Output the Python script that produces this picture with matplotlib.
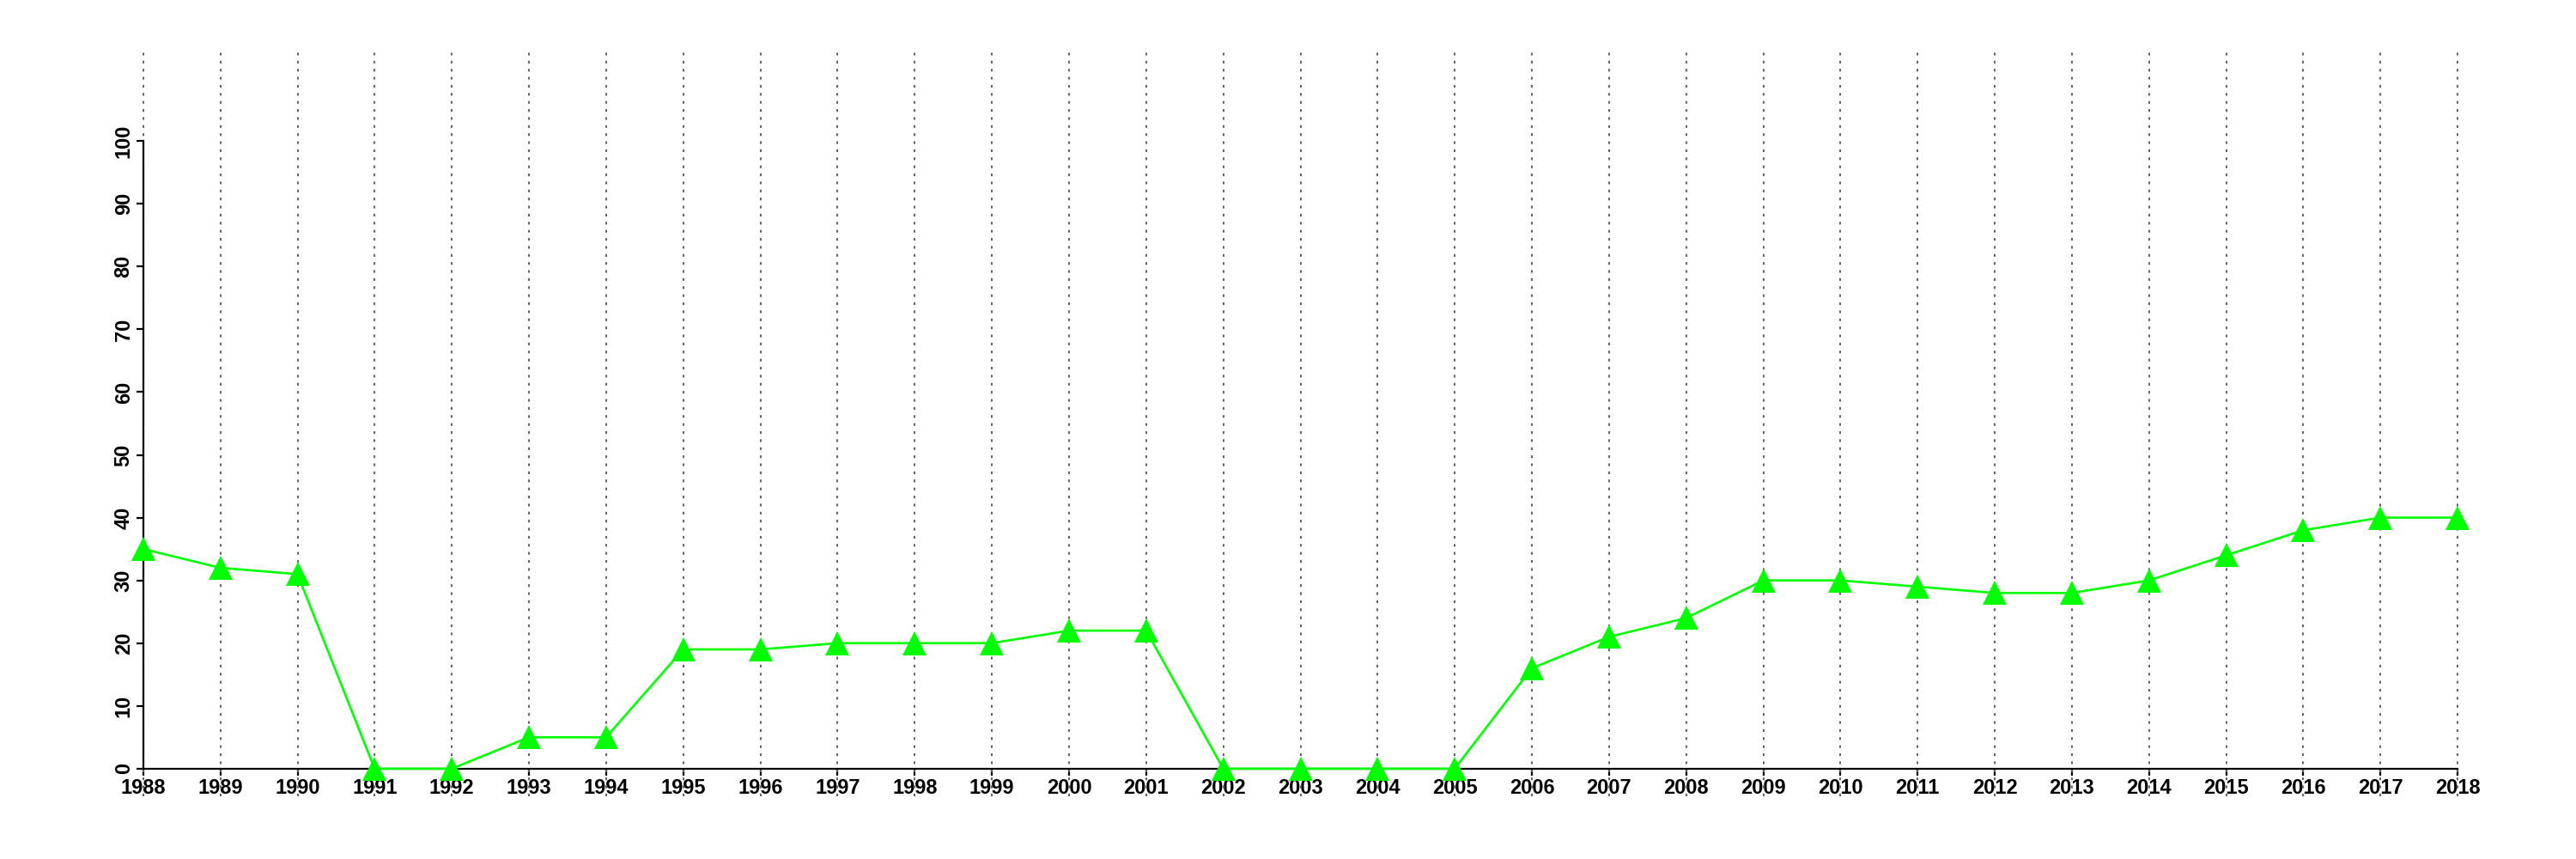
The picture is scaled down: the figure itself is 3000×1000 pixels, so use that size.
import matplotlib
matplotlib.use("Agg")
import matplotlib.pyplot as plt

years = list(range(1988, 2019))
values = [35, 32, 31, 0, 0, 5, 5, 19, 19, 20, 20, 20, 22, 22,
          0, 0, 0, 0, 16, 21, 24, 30, 30, 29, 28, 28, 30, 34, 38, 40, 40]
yticks = list(range(0, 101, 10))

plt.rcParams['font.family'] = ['Liberation Sans', 'DejaVu Sans']

fig = plt.figure(figsize=(30, 10), dpi=100)
ax = fig.add_axes([59 / 3000, 0.073, (2970 - 59) / 3000, 0.941 - 0.073])

ax.set_xlim(1986.8, 2019.2)
ax.set_ylim(-4.4, 114.4)

# dotted vertical grid at each year, over the tick labels like the original
for yr in years:
    ax.axvline(yr, color='#666666', linestyle=(0, (1.5, 3)), linewidth=1.5, zorder=3)

ax.plot(years, values, color='#00ff00', linewidth=1.9, marker='^',
        markersize=20, markeredgewidth=0, zorder=4)

for side in ['top', 'right']:
    ax.spines[side].set_visible(False)
ax.spines['bottom'].set_position(('data', 0))
ax.spines['left'].set_position(('data', 1988))
ax.spines['bottom'].set_bounds(1988, 2018)
ax.spines['left'].set_bounds(0, 100)
for side in ['bottom', 'left']:
    ax.spines[side].set_linewidth(1.6)
    ax.spines[side].set_zorder(3.5)

ax.set_xticks(years)
ax.set_xticklabels([str(y) for y in years], fontsize=17, fontweight='bold')
ax.set_yticks(yticks)
ax.set_yticklabels([str(v) for v in yticks], fontsize=17, fontweight='bold',
                   rotation=90, va='center')
ax.tick_params(axis='both', length=6, width=1.6, pad=2)

fig.savefig('out.png', dpi=100)
